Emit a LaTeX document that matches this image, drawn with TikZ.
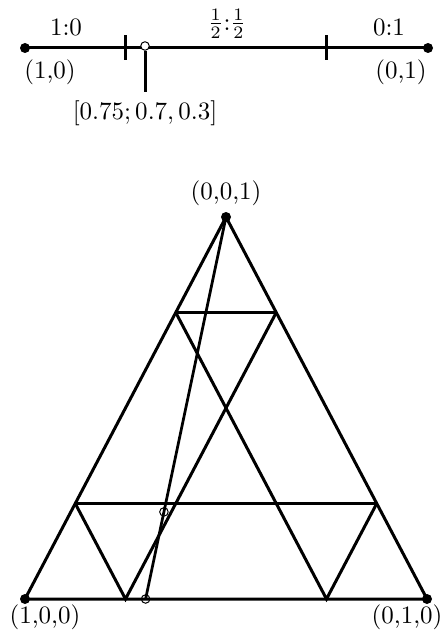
\documentclass[tikz,border=0pt]{standalone}
\usepackage{amsmath}
\usetikzlibrary{calc,positioning}

\begin{document}
\begin{tikzpicture}[
  x=0.4pt, y=-0.4pt,
  every node/.style={font=\normalsize},
  seg/.style={line width=1.2pt},
  dot/.style={circle, fill, inner sep=0pt, minimum size=4pt},
  probe/.style={circle, draw, fill=white, line width=0.4pt, inner sep=0pt, minimum size=3.4pt}
]
\useasboundingbox (0,0) rectangle (443,639);

% segment with ratios
\coordinate (L) at (25,48);
\coordinate (R) at (428,48);
\coordinate (t1) at (125,48);
\coordinate (t2) at (326,48);
\draw[seg] (L) -- (R);
\draw[seg] ([yshift=5pt]t1) -- ([yshift=-5pt]t1);
\draw[seg] ([yshift=5pt]t2) -- ([yshift=-5pt]t2);
\node[dot] (Ld) at (L) {};
\node[dot] (Rd) at (R) {};
\node[probe] (p) at (145,46) {};
\coordinate (pfoot) at (145,92);
\draw[seg] (p.south) -- (pfoot);
\node (r10) at (66,27) {1:0};
\node (rhalf) at (227,24) {$\frac{1}{2}$:$\frac{1}{2}$};
\node (r01) at (389,27) {0:1};
\node (e10) at (50,72) {(1,0)};
\node (e01) at (401,72) {(0,1)};
\node[below=0pt of pfoot] (plbl) {$[0.75;0.7,0.3]$};

% triangle
\coordinate (A) at (25,599);
\coordinate (B) at (427,599);
\coordinate (C) at (226,217);
\coordinate (a1) at (barycentric cs:A=0.75,C=0.25);
\coordinate (a3) at (barycentric cs:A=0.25,C=0.75);
\coordinate (b1) at (barycentric cs:B=0.75,C=0.25);
\coordinate (b3) at (barycentric cs:B=0.25,C=0.75);
\coordinate (c1) at (barycentric cs:A=0.75,B=0.25);
\coordinate (c3) at (barycentric cs:A=0.25,B=0.75);
\coordinate (m) at (barycentric cs:A=0.7,B=0.3);
\draw[seg] (A) -- (B) -- (C) -- cycle;
\draw[seg] (a1) -- (b1);
\draw[seg] (a3) -- (b3);
\draw[seg] (a1) -- (c1) -- (b3);
\draw[seg] (a3) -- (c3) -- (b1);
\draw[line width=1.1pt] (C) -- (m);
\node[dot] (Ad) at (A) {};
\node[dot] (Bd) at (B) {};
\node[dot] (Cd) at (C) {};
\node[probe, fill=none] (md) at (m) {};
\node[probe, fill=none] (q) at ($(C)!0.772!(m)$) {};
\node (l100) at (45,617) {(1,0,0)};
\node (l010) at (407,617) {(0,1,0)};
\node (l001) at (226,193) {(0,0,1)};
\end{tikzpicture}
\end{document}
